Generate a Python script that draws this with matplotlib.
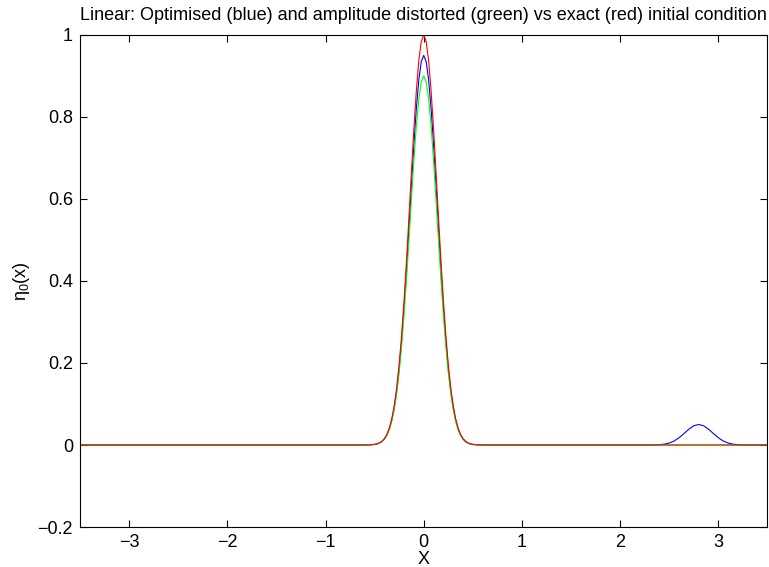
"""
Linear initial condition: optimised and amplitude distorted vs exact profile.
"""

import matplotlib.pyplot as plt

plt.rcParams["font.family"] = ["Liberation Sans", "DejaVu Sans"]
plt.rcParams["mathtext.default"] = "regular"

# values (flat zero outside the pulses)
x_main = [-3.5, -0.6, -0.55, -0.5, -0.475, -0.45, -0.425, -0.4, -0.375, -0.35,
          -0.325, -0.3, -0.275, -0.25, -0.225, -0.2, -0.175, -0.15, -0.125,
          -0.1, -0.075, -0.05, -0.025, 0.0, 0.025, 0.05, 0.075, 0.1, 0.125,
          0.15, 0.175, 0.2, 0.225, 0.25, 0.275, 0.3, 0.325, 0.35, 0.375, 0.4,
          0.425, 0.45, 0.475, 0.5, 0.55, 0.6]
exact = [0.0, 0.0, 0.0004, 0.0015, 0.0028, 0.0052, 0.0091, 0.0156, 0.0258,
         0.0414, 0.0642, 0.0963, 0.14, 0.1969, 0.2682, 0.3535, 0.451, 0.5571,
         0.6661, 0.7711, 0.8639, 0.9371, 0.9839, 1.0, 0.9839, 0.9371, 0.8639,
         0.7711, 0.6661, 0.5571, 0.451, 0.3535, 0.2682, 0.1969, 0.14, 0.0963,
         0.0642, 0.0414, 0.0258, 0.0156, 0.0091, 0.0052, 0.0028, 0.0015,
         0.0004, 0.0]
distorted = [0.0, 0.0, 0.0004, 0.0014, 0.0025, 0.0047, 0.0082, 0.014, 0.0232,
             0.0373, 0.0578, 0.0867, 0.126, 0.1772, 0.2414, 0.3182, 0.4059,
             0.5014, 0.5995, 0.694, 0.7775, 0.8434, 0.8855, 0.9, 0.8855,
             0.8434, 0.7775, 0.694, 0.5995, 0.5014, 0.4059, 0.3182, 0.2414,
             0.1772, 0.126, 0.0867, 0.0578, 0.0373, 0.0232, 0.014, 0.0082,
             0.0047, 0.0025, 0.0014, 0.0004, 0.0]
optimised = [0.0, 0.0, 0.0004, 0.0014, 0.0027, 0.0049, 0.0087, 0.0148, 0.0245,
             0.0393, 0.061, 0.0915, 0.133, 0.1871, 0.2548, 0.3358, 0.4285,
             0.5292, 0.6328, 0.7325, 0.8207, 0.8902, 0.9347, 0.95, 0.9347,
             0.8902, 0.8207, 0.7325, 0.6328, 0.5292, 0.4285, 0.3358, 0.2548,
             0.1871, 0.133, 0.0915, 0.061, 0.0393, 0.0245, 0.0148, 0.0087,
             0.0049, 0.0027, 0.0014, 0.0004, 0.0]

# small spurious bump on the optimised profile
x_bump = [2.3, 2.35, 2.4, 2.45, 2.5, 2.55, 2.6, 2.65, 2.7, 2.75, 2.8, 2.85,
          2.9, 2.95, 3.0, 3.05, 3.1, 3.15, 3.2, 3.25, 3.3, 3.5]
bump = [0.0, 0.0, 0.0008, 0.0021, 0.0048, 0.0098, 0.0177, 0.0279, 0.0386,
        0.0469, 0.05, 0.0469, 0.0386, 0.0279, 0.0177, 0.0098, 0.0048, 0.0021,
        0.0008, 0.0, 0.0, 0.0]

x_ticks = [-3, -2, -1, 0, 1, 2, 3]
y_ticks = [-0.2, 0, 0.2, 0.4, 0.6, 0.8, 1]
y_labels = ["\u22120.2", "0", "0.2", "0.4", "0.6", "0.8", "1"]


def main() -> None:
    fig = plt.figure(figsize=(7.69, 5.67), dpi=100)
    ax = fig.add_axes([0.104, 0.0705, 0.894, 0.868])

    ax.plot(x_main + x_bump, optimised + bump, color="blue", lw=0.8)
    ax.plot(x_main + [3.5], distorted + [0.0], color="#00ff00", lw=0.8)
    ax.plot(x_main + [3.5], exact + [0.0], color="red", lw=0.8)

    ax.set_xlim(-3.5, 3.5)
    ax.set_ylim(-0.2, 1.0)
    ax.set_xticks(x_ticks)
    ax.set_yticks(y_ticks)
    ax.set_yticklabels(y_labels)
    ax.tick_params(direction="in", top=True, right=True, length=5,
                   labelsize=13, width=0.8)
    ax.tick_params(axis="x", pad=5)
    ax.tick_params(axis="y", pad=5)
    for spine in ax.spines.values():
        spine.set_linewidth(0.8)

    ax.set_title("Linear: Optimised (blue) and amplitude distorted (green) vs "
                 "exact (red) initial condition", fontsize=13, pad=11)
    ax.set_xlabel("X", fontsize=13, labelpad=0)
    ax.set_ylabel("\u03b7$_0$(x)", fontsize=13, labelpad=4)

    fig.savefig("out.png", dpi=100)
    plt.close(fig)


if __name__ == "__main__":
    main()
